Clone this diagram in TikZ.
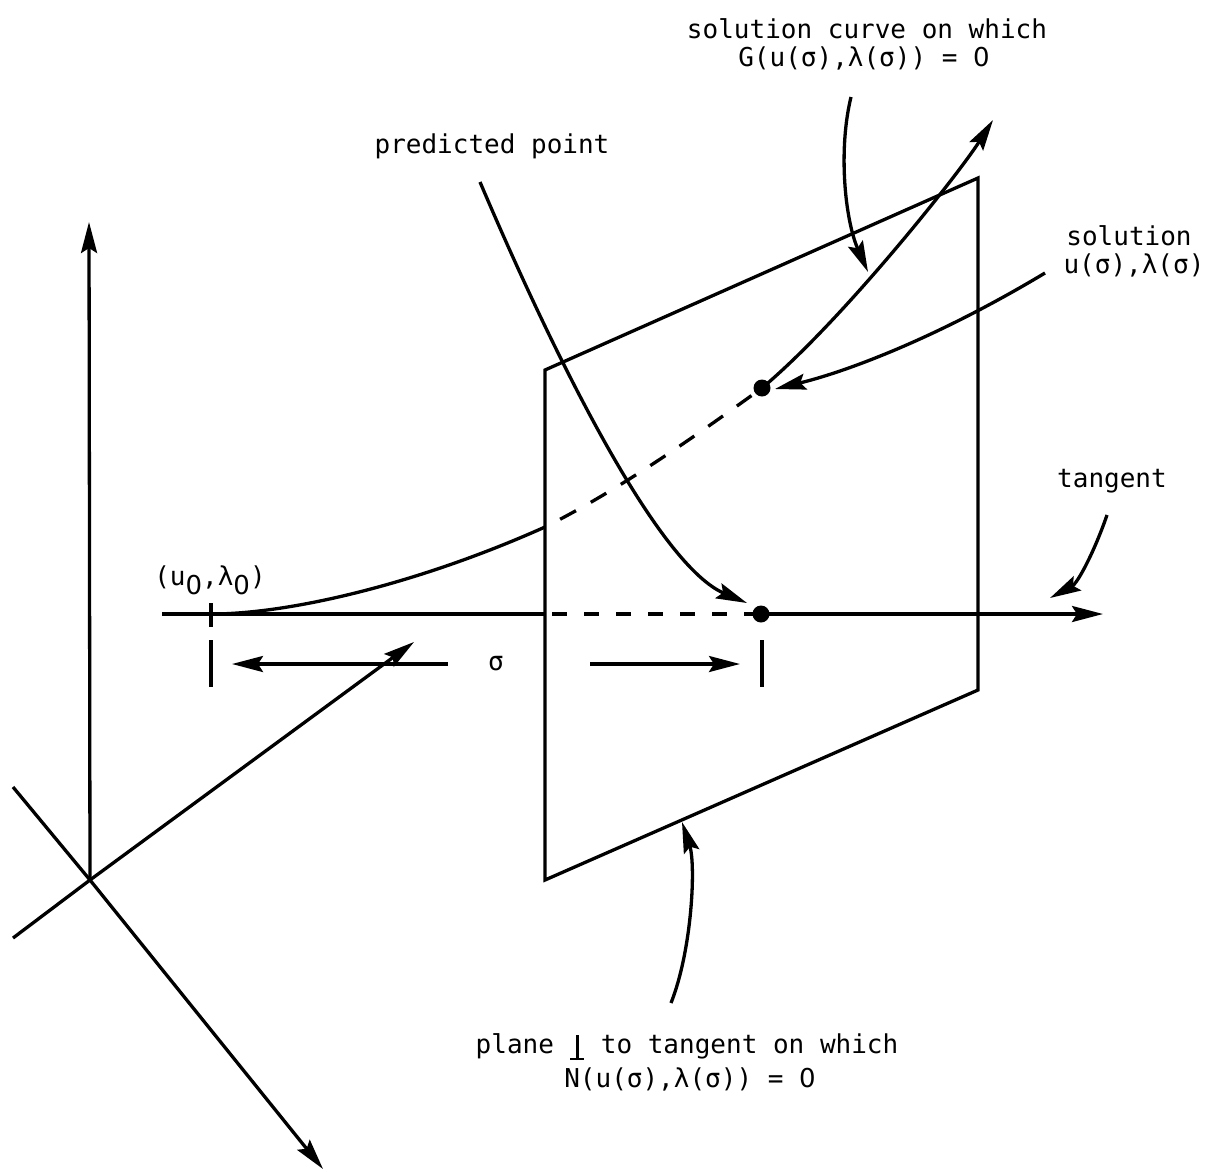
\documentclass[tikz,border=0pt]{standalone}
\usepackage{fontspec}
\setmonofont{DejaVu Sans Mono}
\newfontfamily\zerofnt{DejaVu Sans}
\usetikzlibrary{arrows.meta}
\newcommand\zeroc{{\zerofnt 0}}
\newcommand\subzero{\raisebox{-9pt}{\zeroc}}
\newcommand\perpsym{\makebox[15.6pt]{\raisebox{-7pt}{\rlap{\hspace{5.9pt}\rule{2.3pt}{25pt}}\rule{14pt}{2.3pt}}}}
\begin{document}
\begin{tikzpicture}[x=1pt,y=-1pt,line width=3.3pt,
  arr/.style={-{Stealth[length=31pt,width=16pt,inset=5pt]}},
  lbl/.style={font=\fontsize{26}{29}\selectfont\ttfamily,anchor=base,inner sep=0pt},
  dotn/.style={circle,fill,inner sep=0pt,minimum size=17pt},
  dashcurve/.style={dash pattern=on 18pt off 17pt,dash phase=18pt},
  dashline/.style={dash pattern=on 15pt off 17pt,dash phase=25pt}]
\useasboundingbox (0,0) rectangle (1212,1171);
% axes
\coordinate (O) at (90,880);
\coordinate (zt) at (89,222);
\coordinate (xa) at (13,787);
\coordinate (xb) at (323,1169);
\coordinate (ya) at (13,938);
\coordinate (yb) at (414,642);
\draw[arr] (O) -- (zt);
\draw (xa) -- (O);
\draw[arr] (O) -- (xb);
\draw (ya) -- (O);
\draw[arr] (O) -- (yb);
% plane
\coordinate (P1) at (545,370);
\coordinate (P2) at (978,178);
\coordinate (P3) at (978,690);
\coordinate (P4) at (545,880);
\draw (P1) -- (P2) -- (P3) -- (P4) -- cycle;
% tangent line
\coordinate (T0) at (162,614);
\coordinate (A) at (211,614);
\coordinate (Tp) at (545,614);
\node[dotn] (D1) at (761,614) {};
\coordinate (Tend) at (1103,614);
\draw (T0) -- (Tp);
\draw[dashline] (Tp) -- (D1.center);
\draw[arr] (D1.center) -- (Tend);
\coordinate (At1) at (211,603);
\coordinate (At2) at (211,627);
\draw (At1) -- (At2);
% solution curve
\node[dotn] (D2) at (762,388) {};
\coordinate (B) at (545,527);
\coordinate (Cend) at (993,120);
\draw (A) .. controls (291,614) and (420,583) .. (B);
\draw[dashcurve] (B) .. controls (617,491) and (690,440) .. (D2.center);
\draw[arr] (D2.center) .. controls (842,321) and (958,175) .. (Cend);
% sigma
\coordinate (k1a) at (211,640);
\coordinate (k1b) at (211,687);
\coordinate (k2a) at (762,640);
\coordinate (k2b) at (762,687);
\draw (k1a) -- (k1b);
\draw (k2a) -- (k2b);
\node[lbl] (sig) at (496,670) {σ};
\coordinate (s1) at (448,664);
\coordinate (s1t) at (232,664);
\coordinate (s2) at (590,664);
\coordinate (s2t) at (740,664);
\draw[arr] (s1) -- (s1t);
\draw[arr] (s2) -- (s2t);
% labels
\node[lbl] (l1a) at (867,38) {solution curve on which};
\node[lbl] (l1b) at (864,66) {G(u(σ),λ(σ)) = \zeroc};
\node[lbl] (l2) at (492,153) {predicted point};
\node[lbl] (l3a) at (1129,245) {solution};
\node[lbl] (l3b) at (1134,273) {u(σ),λ(σ)};
\node[lbl] (l4) at (1112,487) {tangent};
\node[lbl] (l5) at (210,585) {(u\subzero,λ\subzero)};
\node[lbl] (l6a) at (687,1053) {plane \perpsym{} to tangent on which};
\node[lbl] (l6b) at (690,1087) {N(u(σ),λ(σ)) = \zeroc};
% label arrows
\coordinate (a1s) at (480,182);
\coordinate (a1t) at (747,603);
\draw[arr] (a1s) .. controls (560,370) and (660,566) .. (a1t);
\coordinate (a2s) at (851,97);
\coordinate (a2t) at (868,272);
\draw[arr] (a2s) .. controls (838,150) and (845,220) .. (a2t);
\coordinate (a3s) at (1045,273);
\coordinate (a3t) at (775,389);
\draw[arr] (a3s) .. controls (935,339) and (845,372) .. (a3t);
\coordinate (a4s) at (1107,515);
\coordinate (a4t) at (1050,598);
\draw[arr] (a4s) .. controls (1095,550) and (1078,583) .. (a4t);
\coordinate (a5s) at (671,1003);
\coordinate (a5t) at (682,822);
\draw[arr] (a5s) .. controls (692,950) and (696,865) .. (a5t);
\end{tikzpicture}
\end{document}
